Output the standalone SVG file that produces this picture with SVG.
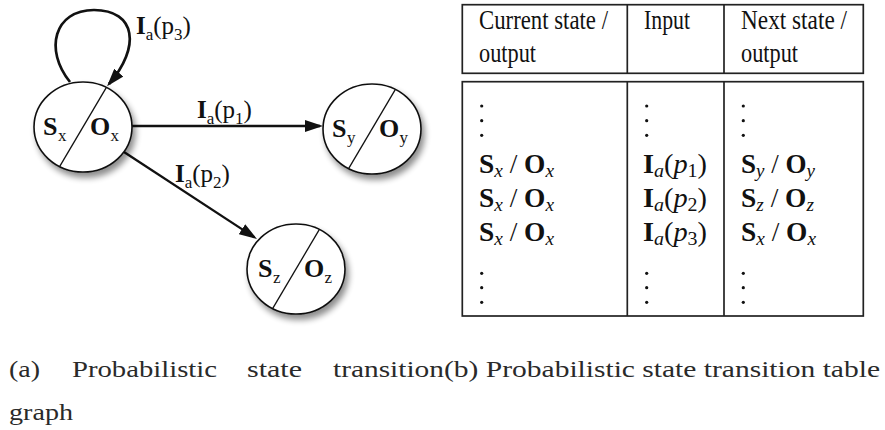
<svg xmlns="http://www.w3.org/2000/svg" width="885" height="430" viewBox="0 0 885 430">
  <style>
    text { font-family: "Liberation Serif", "Times New Roman", serif; fill: #111; }
    .b { font-weight: bold; }
    .it { font-style: italic; }
    .lbl { font-size: 25px; }
    .sub { font-size: 17px; }
    .node-lbl { font-size: 26px; }
    .node-sub { font-size: 17px; }
    .state { fill: #fff; stroke: #111; stroke-width: 1.6; }
    .split { stroke: #111; stroke-width: 1.3; }
    .edge { fill: none; stroke: #111; stroke-width: 2.3; }
    .loop { stroke-width: 2.7; }
    .rule { fill: none; stroke: #222; stroke-width: 1.7; }
    .th { font-size: 28px; }
    .td { font-size: 27px; }
    .tds { font-size: 19px; }
    .cap { font-size: 24px; fill: #2a2a2a; }
    .dot { fill: #111; }
  </style>
  <defs>
    <filter id="soft-shadow" x="-30%" y="-30%" width="170%" height="170%">
      <feGaussianBlur in="SourceAlpha" stdDeviation="3"/>
      <feOffset dx="3" dy="5" result="blur"/>
      <feComponentTransfer><feFuncA type="linear" slope="0.45"/></feComponentTransfer>
      <feMerge><feMergeNode/><feMergeNode in="SourceGraphic"/></feMerge>
    </filter>
    <marker id="arrow" viewBox="0 0 18 12" markerWidth="18" markerHeight="12" refX="15" refY="6" orient="auto" markerUnits="userSpaceOnUse">
      <path d="M0,0 L18,6 L0,12 Z" fill="#111"/>
    </marker>
  </defs>

  <!-- transitions -->
  <g id="connectors">
    <path class="edge loop" d="M70,82 C44,50 54,10 94,10 C136,10 141,47 109,84" marker-end="url(#arrow)"/>
    <line class="edge" x1="132" y1="126" x2="320" y2="126" marker-end="url(#arrow)"/>
    <line class="edge" x1="124" y1="152" x2="254.5" y2="237.4" marker-end="url(#arrow)"/>
    <text class="lbl" x="136" y="34"><tspan class="b">I</tspan><tspan class="sub" dy="6">a</tspan><tspan dy="-6">(p</tspan><tspan class="sub" dy="6">3</tspan><tspan dy="-6">)</tspan></text>
    <text class="lbl" x="197" y="118"><tspan class="b">I</tspan><tspan class="sub" dy="6">a</tspan><tspan dy="-6">(p</tspan><tspan class="sub" dy="6">1</tspan><tspan dy="-6">)</tspan></text>
    <text class="lbl" x="175" y="182"><tspan class="b">I</tspan><tspan class="sub" dy="6">a</tspan><tspan dy="-6">(p</tspan><tspan class="sub" dy="6">2</tspan><tspan dy="-6">)</tspan></text>
  </g>

  <!-- state Sx / Ox -->
  <g id="node-sx">
    <ellipse class="state" cx="83" cy="127" rx="49" ry="45" filter="url(#soft-shadow)"/>
    <line class="split" x1="106.4" y1="87.4" x2="59.6" y2="166.6"/>
    <text class="node-lbl b" x="43" y="135">S</text>
    <text class="node-sub" x="58" y="141">x</text>
    <text class="node-lbl b" x="90" y="135">O</text>
    <text class="node-sub" x="110.5" y="141">x</text>
  </g>

  <!-- state Sy / Oy -->
  <g id="node-sy">
    <ellipse class="state" cx="372" cy="129" rx="49" ry="45" filter="url(#soft-shadow)"/>
    <line class="split" x1="395.4" y1="89.4" x2="348.6" y2="168.6"/>
    <text class="node-lbl b" x="332" y="137">S</text>
    <text class="node-sub" x="347" y="143">y</text>
    <text class="node-lbl b" x="379" y="137">O</text>
    <text class="node-sub" x="399.5" y="143">y</text>
  </g>

  <!-- state Sz / Oz -->
  <g id="node-sz">
    <ellipse class="state" cx="296" cy="269" rx="49" ry="45" filter="url(#soft-shadow)"/>
    <line class="split" x1="319.4" y1="229.4" x2="272.6" y2="308.6"/>
    <text class="node-lbl b" x="258" y="277">S</text>
    <text class="node-sub" x="273" y="283">z</text>
    <text class="node-lbl b" x="304" y="277">O</text>
    <text class="node-sub" x="324.5" y="283">z</text>
  </g>

  <!-- transition table -->
  <g id="table">
    <rect class="rule" x="462.3" y="4.7" width="401" height="68.6"/>
    <line class="rule" x1="627.3" y1="4.7" x2="627.3" y2="73.3"/>
    <line class="rule" x1="724" y1="4.7" x2="724" y2="73.3"/>
    <rect class="rule" x="462.3" y="81.7" width="401" height="234.3"/>
    <line class="rule" x1="627.3" y1="81.7" x2="627.3" y2="316"/>
    <line class="rule" x1="724" y1="81.7" x2="724" y2="316"/>

    <text class="th" x="479" y="29" textLength="129" lengthAdjust="spacingAndGlyphs">Current state /</text>
    <text class="th" x="479" y="62" textLength="57" lengthAdjust="spacingAndGlyphs">output</text>
    <text class="th" x="644" y="29" textLength="46" lengthAdjust="spacingAndGlyphs">Input</text>
    <text class="th" x="741" y="29" textLength="106" lengthAdjust="spacingAndGlyphs">Next state /</text>
    <text class="th" x="741" y="62" textLength="57" lengthAdjust="spacingAndGlyphs">output</text>

    <g class="dots">
      <circle class="dot" cx="481.7" cy="106" r="1.6"/>
      <circle class="dot" cx="481.7" cy="120.7" r="1.6"/>
      <circle class="dot" cx="481.7" cy="135.3" r="1.6"/>
      <circle class="dot" cx="646.7" cy="106" r="1.6"/>
      <circle class="dot" cx="646.7" cy="120.7" r="1.6"/>
      <circle class="dot" cx="646.7" cy="135.3" r="1.6"/>
      <circle class="dot" cx="743.3" cy="106" r="1.6"/>
      <circle class="dot" cx="743.3" cy="120.7" r="1.6"/>
      <circle class="dot" cx="743.3" cy="135.3" r="1.6"/>
      <circle class="dot" cx="481.7" cy="273.3" r="1.6"/>
      <circle class="dot" cx="481.7" cy="287.7" r="1.6"/>
      <circle class="dot" cx="481.7" cy="302.3" r="1.6"/>
      <circle class="dot" cx="646.7" cy="273.3" r="1.6"/>
      <circle class="dot" cx="646.7" cy="287.7" r="1.6"/>
      <circle class="dot" cx="646.7" cy="302.3" r="1.6"/>
      <circle class="dot" cx="743.3" cy="273.3" r="1.6"/>
      <circle class="dot" cx="743.3" cy="287.7" r="1.6"/>
      <circle class="dot" cx="743.3" cy="302.3" r="1.6"/>
    </g>

    <!-- row 1 -->
    <text class="td" x="479" y="173" textLength="75" lengthAdjust="spacingAndGlyphs"><tspan class="b">S</tspan><tspan class="tds it" dy="4">x</tspan><tspan dy="-4"> / </tspan><tspan class="b">O</tspan><tspan class="tds it" dy="4">x</tspan></text>
    <text class="td" x="643" y="173" textLength="64" lengthAdjust="spacingAndGlyphs"><tspan class="b">I</tspan><tspan class="tds it" dy="4">a</tspan><tspan dy="-4">(</tspan><tspan class="it">p</tspan><tspan class="tds" dy="4">1</tspan><tspan dy="-4">)</tspan></text>
    <text class="td" x="741" y="173" textLength="74" lengthAdjust="spacingAndGlyphs"><tspan class="b">S</tspan><tspan class="tds it" dy="4">y</tspan><tspan dy="-4"> / </tspan><tspan class="b">O</tspan><tspan class="tds it" dy="4">y</tspan></text>
    <!-- row 2 -->
    <text class="td" x="479" y="207" textLength="75" lengthAdjust="spacingAndGlyphs"><tspan class="b">S</tspan><tspan class="tds it" dy="4">x</tspan><tspan dy="-4"> / </tspan><tspan class="b">O</tspan><tspan class="tds it" dy="4">x</tspan></text>
    <text class="td" x="643" y="207" textLength="64" lengthAdjust="spacingAndGlyphs"><tspan class="b">I</tspan><tspan class="tds it" dy="4">a</tspan><tspan dy="-4">(</tspan><tspan class="it">p</tspan><tspan class="tds" dy="4">2</tspan><tspan dy="-4">)</tspan></text>
    <text class="td" x="741" y="207" textLength="73" lengthAdjust="spacingAndGlyphs"><tspan class="b">S</tspan><tspan class="tds it" dy="4">z</tspan><tspan dy="-4"> / </tspan><tspan class="b">O</tspan><tspan class="tds it" dy="4">z</tspan></text>
    <!-- row 3 -->
    <text class="td" x="479" y="241" textLength="75" lengthAdjust="spacingAndGlyphs"><tspan class="b">S</tspan><tspan class="tds it" dy="4">x</tspan><tspan dy="-4"> / </tspan><tspan class="b">O</tspan><tspan class="tds it" dy="4">x</tspan></text>
    <text class="td" x="643" y="241" textLength="64" lengthAdjust="spacingAndGlyphs"><tspan class="b">I</tspan><tspan class="tds it" dy="4">a</tspan><tspan dy="-4">(</tspan><tspan class="it">p</tspan><tspan class="tds" dy="4">3</tspan><tspan dy="-4">)</tspan></text>
    <text class="td" x="741" y="241" textLength="75" lengthAdjust="spacingAndGlyphs"><tspan class="b">S</tspan><tspan class="tds it" dy="4">x</tspan><tspan dy="-4"> / </tspan><tspan class="b">O</tspan><tspan class="tds it" dy="4">x</tspan></text>
  </g>

  <!-- sub-figure captions -->
  <g id="captions">
    <text class="cap" x="9" y="377" textLength="31" lengthAdjust="spacingAndGlyphs">(a)</text>
    <text class="cap" x="72" y="377" textLength="145" lengthAdjust="spacingAndGlyphs">Probabilistic</text>
    <text class="cap" x="247" y="377" textLength="55" lengthAdjust="spacingAndGlyphs">state</text>
    <text class="cap" x="333" y="377" textLength="111" lengthAdjust="spacingAndGlyphs">transition</text>
    <text class="cap" x="444" y="377" textLength="436" lengthAdjust="spacingAndGlyphs">(b) Probabilistic state transition table</text>
    <text class="cap" x="9" y="420" textLength="64" lengthAdjust="spacingAndGlyphs">graph</text>
  </g>
</svg>
